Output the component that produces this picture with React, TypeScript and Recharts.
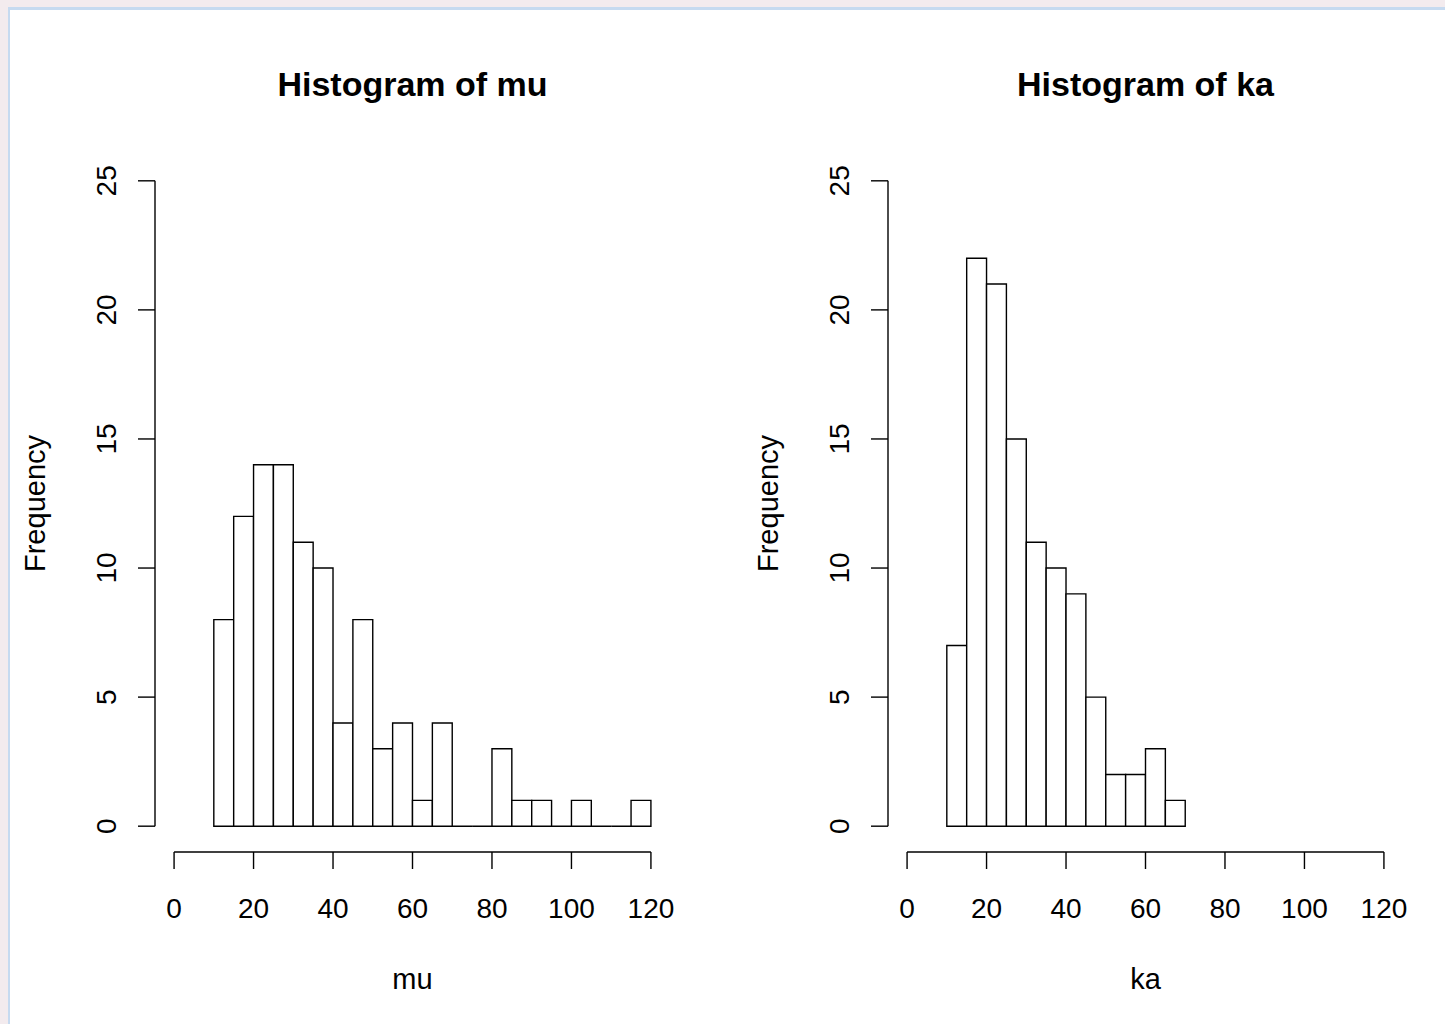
import React from "react";
import { BarChart, Bar, XAxis, YAxis, ReferenceLine } from "recharts";

// bin layout shared by both histograms (R default breaks, width 5)
const binWidth = 5;
const muStarts = [10, 15, 20, 25, 30, 35, 40, 45, 50, 55, 60, 65, 70, 75, 80, 85, 90, 95, 100, 105, 110, 115];
const muCounts = [8, 12, 14, 14, 11, 10, 4, 8, 3, 4, 1, 4, 0, 0, 3, 1, 1, 0, 1, 0, 0, 1];
const kaStarts = [10, 15, 20, 25, 30, 35, 40, 45, 50, 55, 60, 65];
const kaCounts = [7, 22, 21, 15, 11, 10, 9, 5, 2, 2, 3, 1];

const xTicks = [0, 20, 40, 60, 80, 100, 120];
const yTicks = [0, 5, 10, 15, 20, 25];

// R-style 4% padding around xlim = c(0,120), ylim = c(0,25)
const xDomain = [-4.8, 124.8];
const yDomain = [-1, 26];

const FONT = '"Liberation Sans", Arial, sans-serif';

const PANEL_W = 733;
const PANEL_H = 1014;
const MARGIN = { top: 145, right: 73, bottom: 0, left: 0 };
const Y_AXIS_W = 145;
const X_AXIS_H = 172;
const PLOT_W = PANEL_W - MARGIN.right - Y_AXIS_W;

// rect as a path so empty bins still leave their baseline segment
const HistRect = (props: any) => {
  const { x, y, width, height } = props;
  const d = `M${x},${y + height}L${x},${y}L${x + width},${y}L${x + width},${y + height}Z`;
  return <path d={d} fill="#fff" stroke="#000" strokeWidth={1.4} />;
};

const YTick = (props: any) => {
  const { x, y, payload } = props;
  const bx = x - 20;
  return (
    <text x={bx} y={y} transform={`rotate(-90, ${bx}, ${y})`} textAnchor="middle" fontSize={28} fill="#000" fontFamily={FONT}>
      {payload.value}
    </text>
  );
};

function HistPanel({ title, xLabel, starts, counts, left }: { title: string; xLabel: string; starts: number[]; counts: number[]; left: number }) {
  const data = starts.map((s, i) => ({ mid: s + binWidth / 2, count: counts[i] }));
  // a hair under the band so recharts doesn't shrink bars to 90%
  const barSize = (binWidth * PLOT_W) / (xDomain[1] - xDomain[0]) - 0.01;
  return (
    <div style={{ position: "absolute", left, top: 10 }}>
      <BarChart width={PANEL_W} height={PANEL_H} data={data} margin={MARGIN} barCategoryGap={0} barGap={0}>
        <XAxis
          dataKey="mid"
          type="number"
          domain={xDomain}
          ticks={xTicks}
          interval={0}
          height={X_AXIS_H}
          axisLine={false}
          tickSize={17}
          tickMargin={29}
          tickLine={{ stroke: "#000", strokeWidth: 1.4 }}
          tick={{ fill: "#000", fontSize: 28, fontFamily: FONT }}
          allowDataOverflow
          label={{
            content: (p: any) => {
              const vb = p.viewBox;
              return (
                <text x={vb.x + vb.width / 2} y={vb.y + 137} textAnchor="middle" fontSize={29} fill="#000" fontFamily={FONT}>
                  {xLabel}
                </text>
              );
            },
          }}
        />
        <YAxis
          type="number"
          domain={yDomain}
          ticks={yTicks}
          interval={0}
          width={Y_AXIS_W}
          axisLine={false}
          tickSize={17}
          tickLine={{ stroke: "#000", strokeWidth: 1.4 }}
          tick={<YTick />}
          allowDataOverflow
          label={{
            content: (p: any) => {
              const vb = p.viewBox;
              const cx = 35;
              const cy = vb.y + vb.height / 2;
              return (
                <text x={cx} y={cy} transform={`rotate(-90, ${cx}, ${cy})`} textAnchor="middle" fontSize={29} fill="#000" fontFamily={FONT}>
                  Frequency
                </text>
              );
            },
          }}
        />
        <ReferenceLine segment={[{ x: xTicks[0], y: yDomain[0] }, { x: xTicks[xTicks.length - 1], y: yDomain[0] }]} stroke="#000" strokeWidth={1.4} />
        <ReferenceLine segment={[{ x: xDomain[0], y: yTicks[0] }, { x: xDomain[0], y: yTicks[yTicks.length - 1] }]} stroke="#000" strokeWidth={1.4} />
        <Bar dataKey="count" barSize={barSize} shape={<HistRect />} isAnimationActive={false} />
      </BarChart>
      <div
        style={{
          position: "absolute",
          left: Y_AXIS_W,
          width: PLOT_W,
          top: 54,
          textAlign: "center",
          fontFamily: FONT,
          fontWeight: "bold",
          fontSize: 34,
          lineHeight: "40px",
          color: "#000",
        }}
      >
        {title}
      </div>
    </div>
  );
}

export default function App() {
  return (
    <div style={{ position: "absolute", left: 0, top: 0, width: 1445, height: 1024, background: "#f3ebee", overflow: "hidden" }}>
      <div
        style={{
          position: "absolute",
          left: 8,
          top: 7,
          width: 1445,
          height: 1024,
          background: "#fff",
          borderTop: "3px solid #c6daf0",
          borderLeft: "2px solid #c6daf0",
        }}
      />
      <HistPanel title="Histogram of mu" xLabel="mu" starts={muStarts} counts={muCounts} left={10} />
      <HistPanel title="Histogram of ka" xLabel="ka" starts={kaStarts} counts={kaCounts} left={743} />
    </div>
  );
}
